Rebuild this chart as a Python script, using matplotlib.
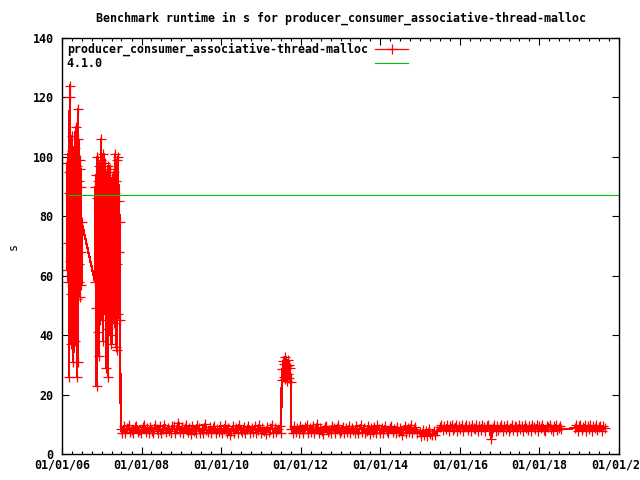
import numpy as np
import pandas as pd
import matplotlib
matplotlib.use('Agg')
import matplotlib.pyplot as plt
import matplotlib.dates as mdates

# benchmark runs, grouped in stretches of roughly even spacing
seg_dates = [('2006-02-16', '2006-07-01'),
             ('2006-10-30', '2007-06-17'),
             ('2007-06-25', '2011-07-05'),
             ('2011-07-12', '2011-10-01'),
             ('2011-10-08', '2014-12-01'),
             ('2014-12-28', '2015-06-02'),
             ('2015-07-01', '2018-07-22'),
             ('2018-11-20', '2019-08-22')]

runs_a = [62, 98, 71, 101, 58, 88, 26, 95, 120, 124, 65, 54, 93, 37, 102, 60, 107, 47, 85, 31,
          99, 66, 55, 94, 38, 103, 110, 61, 89, 26, 97, 52, 116, 31, 106, 58, 92, 64, 99, 53,
          96, 68, 90, 57, 78]
runs_b = [58, 90, 49, 94, 23, 86, 100, 41, 92, 33, 97, 60, 88, 45, 99, 106, 52, 95, 70, 38,
          101, 63, 91, 47, 98, 57, 29, 94, 66, 84, 42, 26, 97, 55, 89, 40, 96, 61, 86, 37,
          93, 50, 90, 73, 44, 95, 58, 88, 101, 36, 92, 64, 35, 99, 47, 100, 68, 85, 78, 45]
runs_c = [8.4, 7.1, 9.3, 7.0, 8.8, 9.6, 7.4, 8.2, 6.9, 9.1, 9.5, 7.3, 8.0, 6.9, 9.0, 9.7, 7.5, 8.6, 7.1, 9.2,
          7.9, 7.0, 9.6, 8.3, 7.2, 9.4, 6.9, 8.5, 9.9, 7.3, 8.9, 7.8, 7.0, 9.3, 9.5, 7.1, 8.4, 10.6, 7.4, 9.0,
          7.0, 8.6, 9.6, 7.3, 8.8, 6.8, 9.4, 7.8, 7.1, 9.7, 8.9, 7.2, 8.3, 6.9, 10.2, 8.0, 7.4, 9.2, 7.0, 8.7,
          9.5, 7.1, 8.5, 7.3, 9.3, 6.9, 8.4, 9.6, 7.2, 8.9, 6.5, 7.9, 9.4, 7.1, 8.6, 7.0, 9.8, 8.0, 7.3, 9.1,
          6.9, 8.4, 9.5, 7.2, 8.8, 7.4, 9.3, 7.0, 8.1, 9.7, 7.1, 8.9, 7.8, 6.8, 9.2, 7.5, 8.6, 9.6, 7.1, 8.8,
          7.3, 8.4, 9.4, 7.0]
runs_d = [28.5, 24.8, 31.2, 26.0, 30.4, 25.3, 32.8, 27.1, 29.6, 24.5, 31.5, 26.8, 30.0, 25.6, 28.9, 24.2]
runs_e = [8.3, 7.0, 9.3, 7.5, 8.8, 7.1, 9.5, 8.4, 6.9, 9.0, 9.6, 7.2, 8.6, 7.3, 9.4, 7.0, 8.4, 10.1, 7.1, 8.8,
          7.8, 6.8, 9.2, 9.5, 7.3, 8.0, 7.0, 9.4, 8.6, 7.2, 8.9, 9.7, 6.9, 7.9, 9.2, 7.1, 8.6, 7.5, 9.5, 7.0,
          8.8, 8.0, 7.2, 9.3, 6.9, 8.4, 9.8, 7.3, 8.9, 7.1, 7.9, 9.4, 6.8, 8.6, 7.5, 9.1, 7.0, 9.6, 8.4, 7.2,
          8.8, 7.1, 9.3, 7.9, 6.9, 8.9, 9.5, 7.3, 8.4, 7.0, 9.2, 7.5, 8.6, 6.4, 8.0, 9.3, 7.1, 8.8, 7.3, 9.6,
          7.0, 8.4, 9.1, 7.2]
runs_f = [7.4, 6.2, 8.1, 6.5, 7.8, 6.0, 8.4, 6.8, 6.3, 7.9, 6.4, 7.6]
runs_g = [9.0, 9.7, 8.0, 9.4, 8.3, 9.8, 7.8, 9.3, 9.6, 8.1, 8.7, 9.9, 7.9, 9.5, 8.4, 9.7, 7.7, 9.1, 9.6, 8.1,
          9.3, 7.9, 9.8, 8.6, 8.3, 9.6, 7.7, 9.5, 8.1, 9.7, 9.0, 7.9, 9.3, 9.6, 8.3, 5.0, 8.7, 9.8, 7.9, 9.4,
          8.1, 9.1, 9.7, 7.8, 9.3, 8.3, 9.6, 7.9, 8.7, 9.8, 8.1, 9.5, 9.0, 7.7, 9.7, 8.3, 9.3, 7.9, 9.6, 8.6,
          8.1, 9.5, 7.7, 9.8, 9.0, 8.3, 9.6, 7.9, 9.3, 8.6, 9.7, 8.1, 7.8, 9.5, 9.0, 9.6, 8.3, 7.9, 9.3, 9.7,
          8.1, 8.7, 9.5, 8.3]
runs_h = [8.7, 9.7, 7.9, 9.3, 9.6, 8.1, 9.1, 9.8, 7.8, 9.5, 8.3, 9.6, 7.9, 9.3, 8.6, 9.7, 8.1, 9.1, 9.5, 7.8,
          9.3, 8.6]
all_runs = [runs_a, runs_b, runs_c, runs_d, runs_e, runs_f, runs_g, runs_h]

# reference version runtime
ref_label = '4.1.0'
ref_value = 87
ref_dates = ['2006-02-24', '2020-01-01']

bench = 'producer_consumer_associative-thread-malloc'

dates = []
values = []
for (d0, d1), v in zip(seg_dates, all_runs):
    dates.extend(pd.date_range(d0, d1, periods=len(v)))
    values.extend(v)

plt.rcParams['font.family'] = 'DejaVu Sans Mono'
plt.rcParams['font.weight'] = 'bold'
plt.rcParams['font.size'] = 8.4

fig = plt.figure(figsize=(6.4, 4.8), dpi=100)
ax = fig.add_axes([62/640, 26/480, 557/640, 416/480])

ax.plot(dates, values, color='#ff0000', lw=0.9, marker='+', ms=7, mew=0.9,
        antialiased=False, label=bench)
ax.plot(pd.to_datetime(ref_dates), [ref_value, ref_value], color='#00c000', lw=0.8,
        label=ref_label.ljust(len(bench)))

ax.set_xlim(pd.Timestamp('2006-01-01'), pd.Timestamp('2020-01-01'))
ax.set_ylim(0, 140)
ax.set_yticks(np.arange(0, 141, 20))
ax.xaxis.set_major_locator(mdates.YearLocator(2))
ax.xaxis.set_minor_locator(mdates.MonthLocator(bymonth=[1, 4, 7, 10]))
ax.xaxis.set_major_formatter(mdates.DateFormatter('%m/%d/%y'))
ax.tick_params(which='both', direction='in', top=True, right=True, width=0.8, color='black')
ax.tick_params(which='major', length=5)
ax.tick_params(which='minor', length=2.5)
ax.tick_params(axis='x', which='major', pad=3)
ax.tick_params(axis='y', which='major', pad=6)
for s in ax.spines.values():
    s.set_linewidth(1)

ax.set_title('Benchmark runtime in s for ' + bench, fontsize=8.4, fontweight='bold', pad=12)
ax.set_ylabel('s', labelpad=9)

ax.legend(loc='upper left', frameon=False, markerfirst=False, numpoints=1,
          handlelength=2.9, handletextpad=0.6, labelspacing=0.1,
          borderaxespad=0.2, borderpad=0.2)

fig.savefig('out.png', dpi=100)
